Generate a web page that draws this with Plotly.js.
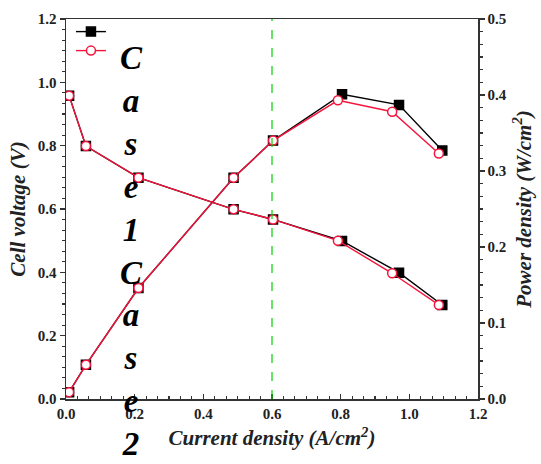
<!DOCTYPE html>
<html>
<head>
<meta charset="utf-8">
<script src="https://cdn.plot.ly/plotly-3.0.1.min.js"></script>
<style>html,body{margin:0;padding:0;background:#fff;}#chart{width:541px;height:464px;}</style>
</head>
<body>
<div id="chart"></div>
<script>
// Case1 (black filled squares)
const case1Current = [0.009, 0.058, 0.211, 0.488, 0.603, 0.804, 0.970, 1.096];
const case1Voltage = [0.958, 0.799, 0.699, 0.599, 0.567, 0.499, 0.399, 0.297];
const case1Power   = [0.009, 0.045, 0.146, 0.291, 0.340, 0.401, 0.387, 0.327];
// Case2 (red open circles)
const case2Current = [0.009, 0.058, 0.211, 0.488, 0.603, 0.792, 0.950, 1.086];
const case2Voltage = [0.958, 0.799, 0.699, 0.599, 0.567, 0.500, 0.397, 0.297];
const case2Power   = [0.009, 0.045, 0.146, 0.291, 0.340, 0.393, 0.378, 0.323];
const seriesNames = ["Case1", "Case2"];
const referenceCurrent = [0.6];
const legendLabel = "C<br>a<br>s<br>e<br>1<br>C<br>a<br>s<br>e<br>2";
// tick values / labels
const xTicks = [0.0, 0.2, 0.4, 0.6, 0.8, 1.0, 1.2];
const xTickLabels = ["0.0", "0.2", "0.4", "0.6", "0.8", "1.0", "1.2"];
const vTicks = [0.0, 0.2, 0.4, 0.6, 0.8, 1.0, 1.2];
const vTickLabels = ["0.0", "0.2", "0.4", "0.6", "0.8", "1.0", "1.2"];
const pTicks = [0.0, 0.1, 0.2, 0.3, 0.4, 0.5];
const pTickLabels = ["0.0", "0.1", "0.2", "0.3", "0.4", "0.5"];

const RED = "rgb(245,20,60)";
const FONT = "Liberation Serif, Times New Roman, serif";
const bold = arr => arr.map(s => "<b>" + s + "</b>");

function trace(x, y, name, axis, color, symbol, fill) {
  return {
    x: x, y: y, yaxis: axis, type: "scatter", mode: "lines+markers",
    name: name, showlegend: false,
    line: {color: color, width: 1.4},
    marker: {symbol: symbol, size: 9, color: fill, line: {color: color, width: 1.5}}
  };
}
// legend-only key entries (the label is drawn as the stacked text beside them)
function key(color, symbol, fill) {
  return {
    x: [null], y: [null], type: "scatter", mode: "lines+markers", name: "",
    showlegend: true, hoverinfo: "skip",
    line: {color: color, width: 1.4},
    marker: {symbol: symbol, size: 9, color: fill, line: {color: color, width: 1.5}}
  };
}

const data = [
  trace(case1Current, case1Voltage, seriesNames[0], "y", "#000", "square", "#000"),
  trace(case1Current, case1Power, seriesNames[0], "y2", "#000", "square", "#000"),
  trace(case2Current, case2Voltage, seriesNames[1], "y", RED, "circle", "#fff"),
  trace(case2Current, case2Power, seriesNames[1], "y2", RED, "circle", "#fff"),
  key("#000", "square", "#000"),
  key(RED, "circle", "#fff")
];

const tickFont = {family: FONT, size: 15, color: "#222"};
const titleFont = {family: FONT, size: 21, color: "#222", weight: "bold", style: "italic"};

const layout = {
  width: 541, height: 464,
  margin: {l: 66, r: 63, t: 19, b: 65},
  paper_bgcolor: "#fff", plot_bgcolor: "#fff",
  showlegend: true,
  legend: {x: 0.012, y: 1.005, xanchor: "left", yanchor: "top",
           bgcolor: "rgba(0,0,0,0)", font: {family: FONT, size: 9, color: "#000"},
           itemwidth: 30, tracegroupgap: 0},
  xaxis: {
    range: [0, 1.2], tickmode: "array", tickvals: xTicks, ticktext: bold(xTickLabels),
    ticks: "inside", ticklen: 5, tickwidth: 1.2, tickcolor: "#333",
    minor: {ticks: "inside", tickmode: "linear", tick0: 0, dtick: 0.2/6, ticklen: 3, tickcolor: "#333"},
    showline: true, linecolor: "#333", linewidth: 1.5, mirror: true,
    showgrid: false, zeroline: false, tickfont: tickFont,
    title: {text: "Current density (A/cm<sup>2</sup>)", font: titleFont, standoff: 10}
  },
  yaxis: {
    range: [0, 1.2], tickmode: "array", tickvals: vTicks, ticktext: bold(vTickLabels),
    ticks: "outside", ticklen: 5, tickwidth: 1.2, tickcolor: "#333",
    minor: {ticks: "outside", tickmode: "linear", tick0: 0, dtick: 0.2/6, ticklen: 3, tickcolor: "#333"},
    showline: true, linecolor: "#333", linewidth: 1.5,
    showgrid: false, zeroline: false, tickfont: tickFont,
    title: {text: "Cell voltage (V)", font: titleFont, standoff: 6}
  },
  yaxis2: {
    range: [0, 0.5], tickmode: "array", tickvals: pTicks, ticktext: bold(pTickLabels),
    overlaying: "y", side: "right",
    ticks: "outside", ticklen: 5, tickwidth: 1.2, tickcolor: "#333",
    minor: {ticks: "outside", tickmode: "linear", tick0: 0, dtick: 0.1/6, ticklen: 3, tickcolor: "#333"},
    showline: true, linecolor: "#333", linewidth: 1.5,
    showgrid: false, zeroline: false, tickfont: tickFont,
    title: {text: "Power density (W/cm<sup>2</sup>)", font: titleFont, standoff: 10}
  },
  shapes: referenceCurrent.map(v => ({
    type: "line", xref: "x", yref: "paper", x0: v, x1: v, y0: 0, y1: 1,
    line: {color: "rgb(0,210,0)", width: 1.2, dash: "dash"}
  })),
  annotations: [{
    xref: "paper", yref: "paper", x: 0.158, y: 0.95, xanchor: "center", yanchor: "top",
    showarrow: false, align: "center",
    text: "<b><i>" + legendLabel + "</i></b>",
    font: {family: FONT, size: 33, color: "#000"}
  }]
};

Plotly.newPlot("chart", data, layout, {displayModeBar: false, staticPlot: true});
</script>
</body>
</html>
